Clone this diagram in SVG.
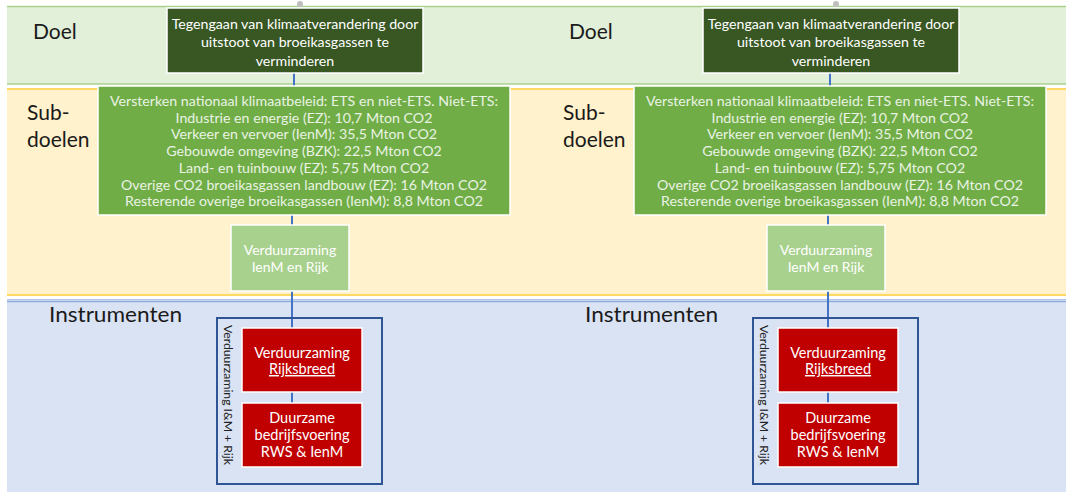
<svg xmlns="http://www.w3.org/2000/svg" width="1066" height="492" viewBox="0 0 1066 492">
<style>
.lbl{font-family:Lato,"Liberation Sans",sans-serif;font-size:21px;fill:#1a1a1a}
.t{font-family:Lato,"Liberation Sans",sans-serif;text-anchor:middle}
.doelt{font-size:14.2px;fill:#ffffff}
.subt{font-size:14.2px;fill:#EAF3E3}
.ient{font-size:14px;fill:#ffffff}
.redt{font-size:14.5px;fill:#ffffff}
.vt{font-family:Lato,"Liberation Sans",sans-serif;font-size:12.2px;fill:#222}
.box{stroke:#ffffff;stroke-width:1.5}
.conn{stroke:#4472C4;stroke-width:2;fill:none}
.outer{fill:none;stroke:#2F5597;stroke-width:2}
</style>
<rect width="1066" height="492" fill="#ffffff"/>
<g id="bands">
<rect x="7" y="6" width="1059" height="78" fill="#E2F0D9"/>
<line x1="7" y1="6.5" x2="1066" y2="6.5" stroke="#A9D18E" stroke-width="1.5"/>
<line x1="7" y1="84" x2="1066" y2="84" stroke="#A9D18E" stroke-width="1.5"/>
<rect x="7" y="88" width="1059" height="208" fill="#FFF2CC"/>
<line x1="7" y1="89" x2="1066" y2="89" stroke="#FFD966" stroke-width="2"/>
<line x1="7" y1="295" x2="1066" y2="295" stroke="#FFD966" stroke-width="2"/>
<rect x="7" y="300" width="1059" height="192" fill="#DAE3F3"/>
<line x1="7" y1="299.5" x2="1066" y2="299.5" stroke="#B4C7E7" stroke-width="1"/>
<line x1="7" y1="301.5" x2="1066" y2="301.5" stroke="#8FAADC" stroke-width="1.5"/>
<circle cx="300" cy="4" r="3" fill="#BFBFBF"/>
<circle cx="836" cy="4" r="3" fill="#BFBFBF"/>
</g>
<g id="labels">
<text class="lbl" x="33" y="39">Doel</text>
<text class="lbl" x="27" y="120">Sub-</text>
<text class="lbl" x="27" y="147">doelen</text>
<text class="lbl" x="49" y="322" textLength="133" lengthAdjust="spacingAndGlyphs">Instrumenten</text>
<text class="lbl" x="569" y="39">Doel</text>
<text class="lbl" x="563" y="120">Sub-</text>
<text class="lbl" x="563" y="147">doelen</text>
<text class="lbl" x="585" y="322" textLength="133" lengthAdjust="spacingAndGlyphs">Instrumenten</text>
</g>
<g id="connectors">
<line class="conn" x1="294" y1="73" x2="294" y2="87"/>
<line class="conn" x1="292" y1="215" x2="292" y2="225"/>
<line class="conn" x1="292" y1="291" x2="292" y2="328"/>
<line class="conn" x1="292" y1="392" x2="292" y2="403"/>
<line class="conn" x1="830" y1="73" x2="830" y2="87"/>
<line class="conn" x1="828" y1="215" x2="828" y2="225"/>
<line class="conn" x1="828" y1="291" x2="828" y2="328"/>
<line class="conn" x1="828" y1="392" x2="828" y2="403"/>
</g>
<g id="doel-left">
<rect class="box" x="167" y="8" width="256" height="65" fill="#385723"/>
<text class="t doelt" x="295" y="29">Tegengaan van klimaatverandering door</text>
<text class="t doelt" x="295" y="47">uitstoot van broeikasgassen te</text>
<text class="t doelt" x="295" y="66">verminderen</text>
</g>
<g id="sub-left">
<rect class="box" x="98" y="86" width="412" height="129" fill="#70AD47"/>
<text class="t subt" x="304" y="106">Versterken nationaal klimaatbeleid: ETS en niet-ETS. Niet-ETS:</text>
<text class="t subt" x="304" y="122.5">Industrie en energie (EZ): 10,7 Mton CO2</text>
<text class="t subt" x="304" y="139">Verkeer en vervoer (IenM): 35,5 Mton CO2</text>
<text class="t subt" x="304" y="156">Gebouwde omgeving (BZK): 22,5 Mton CO2</text>
<text class="t subt" x="304" y="173">Land- en tuinbouw (EZ): 5,75 Mton CO2</text>
<text class="t subt" x="304" y="189.5">Overige CO2 broeikasgassen landbouw (EZ): 16 Mton  CO2</text>
<text class="t subt" x="304" y="206">Resterende overige broeikasgassen (IenM): 8,8 Mton CO2</text>
</g>
<g id="ienm-left">
<rect class="box" x="231" y="225" width="118" height="66" fill="#A9D18E"/>
<text class="t ient" x="290" y="255">Verduurzaming</text>
<text class="t ient" x="290" y="272">IenM en Rijk</text>
</g>
<g id="instr-left">
<rect class="outer" x="217" y="318" width="165" height="166"/>
<text class="vt" transform="translate(224,325) rotate(90)">Verduurzaming I&amp;M + Rijk</text>
<rect class="box" x="242" y="328" width="120" height="64" fill="#C00000"/>
<text class="t redt" x="302" y="358">Verduurzaming</text>
<text class="t redt" x="302" y="374" text-decoration="underline">Rijksbreed</text>
<rect class="box" x="242" y="403" width="120" height="64" fill="#C00000"/>
<text class="t redt" x="302" y="423">Duurzame</text>
<text class="t redt" x="302" y="440">bedrijfsvoering</text>
<text class="t redt" x="302" y="457">RWS &amp; IenM</text>
</g>
<g id="doel-right">
<rect class="box" x="703" y="8" width="256" height="65" fill="#385723"/>
<text class="t doelt" x="831" y="29">Tegengaan van klimaatverandering door</text>
<text class="t doelt" x="831" y="47">uitstoot van broeikasgassen te</text>
<text class="t doelt" x="831" y="66">verminderen</text>
</g>
<g id="sub-right">
<rect class="box" x="634" y="86" width="412" height="129" fill="#70AD47"/>
<text class="t subt" x="840" y="106">Versterken nationaal klimaatbeleid: ETS en niet-ETS. Niet-ETS:</text>
<text class="t subt" x="840" y="122.5">Industrie en energie (EZ): 10,7 Mton CO2</text>
<text class="t subt" x="840" y="139">Verkeer en vervoer (IenM): 35,5 Mton CO2</text>
<text class="t subt" x="840" y="156">Gebouwde omgeving (BZK): 22,5 Mton CO2</text>
<text class="t subt" x="840" y="173">Land- en tuinbouw (EZ): 5,75 Mton CO2</text>
<text class="t subt" x="840" y="189.5">Overige CO2 broeikasgassen landbouw (EZ): 16 Mton  CO2</text>
<text class="t subt" x="840" y="206">Resterende overige broeikasgassen (IenM): 8,8 Mton CO2</text>
</g>
<g id="ienm-right">
<rect class="box" x="767" y="225" width="118" height="66" fill="#A9D18E"/>
<text class="t ient" x="826" y="255">Verduurzaming</text>
<text class="t ient" x="826" y="272">IenM en Rijk</text>
</g>
<g id="instr-right">
<rect class="outer" x="753" y="318" width="165" height="166"/>
<text class="vt" transform="translate(760,325) rotate(90)">Verduurzaming I&amp;M + Rijk</text>
<rect class="box" x="778" y="328" width="120" height="64" fill="#C00000"/>
<text class="t redt" x="838" y="358">Verduurzaming</text>
<text class="t redt" x="838" y="374" text-decoration="underline">Rijksbreed</text>
<rect class="box" x="778" y="403" width="120" height="64" fill="#C00000"/>
<text class="t redt" x="838" y="423">Duurzame</text>
<text class="t redt" x="838" y="440">bedrijfsvoering</text>
<text class="t redt" x="838" y="457">RWS &amp; IenM</text>
</g>
</svg>
